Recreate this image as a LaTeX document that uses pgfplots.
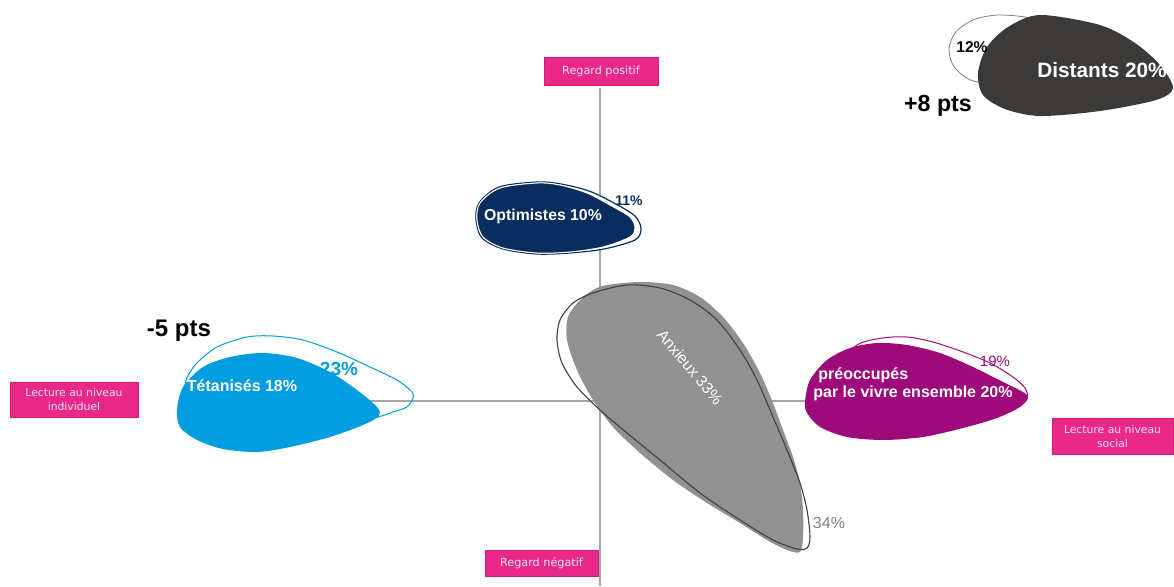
\documentclass[border=0pt]{standalone}
\usepackage{pgfplots}
\pgfplotsset{compat=1.18}
\usepackage{fontspec}
\setmainfont{Liberation Sans}
\newfontfamily\dv{DejaVu Sans}
\definecolor{distc}{RGB}{59,58,57}
\definecolor{navy}{RGB}{10,45,95}
\definecolor{bluec}{RGB}{0,158,224}
\definecolor{greyc}{RGB}{145,145,145}
\definecolor{purp}{RGB}{158,10,122}
\definecolor{pinkc}{RGB}{233,40,138}
\definecolor{pinkb}{RGB}{205,30,120}
\definecolor{pinkt}{RGB}{252,228,240}
\definecolor{axl}{RGB}{165,165,165}
\begin{document}
\begin{tikzpicture}
\begin{axis}[x=0.5pt, y=0.5pt, xmin=0, xmax=1174, ymin=0, ymax=586,
  y dir=reverse, hide axis, clip=false, scale only axis]
\path (axis cs:0,0) rectangle (axis cs:1174,586);
% quadrant lines
\addplot[axl, line width=0.75pt] coordinates {(600,88) (600,586)};
\addplot[axl, line width=0.75pt] coordinates {(300,401) (900,401)};
% Distants
\addplot[draw=gray, fill=white, line width=0.4pt, smooth cycle] coordinates {
(1000,15) (1040,20) (1090,40) (1110,55) (1090,70) (1040,80) (978,82) (955,68) (949,50) (955,33) (973,20)};
\addplot[draw=none, fill=distc, smooth cycle] coordinates {
(1040,15) (1100,25) (1135,43) (1160,65) (1173,88) (1156,100) (1100,111) (1040,116) (1005,109) (983,95) (978,73) (987,47) (1008,27)};
% Optimistes
\addplot[draw=navy, fill=white, line width=0.6pt, smooth cycle] coordinates {
(479,203) (499,187) (537,182) (561,184) (589,191) (614,203) (635,216) (641,229) (635,240) (604,249) (570,253) (537,254) (503,249) (482,238) (476,220)};
\addplot[draw=white, line width=0.5pt, fill=navy, smooth cycle] coordinates {
(480,203) (500,188) (537,183) (560,185) (587,193) (610,205) (630,217) (635,228) (630,237) (603,247) (570,252) (537,253) (503,248) (483,237) (477,220)};
% Tetanises
\addplot[draw=bluec, line width=0.5pt, smooth cycle] coordinates {
(187,378) (197,363) (217,347) (247,337) (273,336) (303,340) (337,352) (370,367) (397,380) (412,392) (413,398) (407,407) (393,412) (378,417) (330,430) (260,440) (200,420) (185,395)};
\addplot[draw=none, fill=bluec, smooth cycle] coordinates {
(177,410) (183,387) (203,367) (230,357) (263,353) (297,358) (330,372) (357,390) (377,407) (379,416) (363,425) (330,437) (290,447) (257,452) (223,449) (197,440) (180,427)};
% Anxieux
\addplot[draw=none, fill=greyc, smooth cycle] coordinates {
(607,285) (640,282) (673,285) (700,297) (723,317) (743,343) (760,373) (773,403) (783,430) (793,457) (800,483) (803,510) (803,537) (800,552) (787,550) (767,540) (740,523) (707,503) (673,480) (640,453) (613,427) (593,400) (577,370) (567,340) (568,317) (580,300) (593,290)};
\addplot[draw=black!75, line width=0.55pt, smooth cycle] coordinates {
(593,293) (627,285) (660,288) (690,300) (717,320) (740,350) (757,380) (773,417) (787,450) (800,483) (807,510) (810,537) (807,548) (797,549) (773,540) (740,520) (700,493) (660,460) (627,433) (600,410) (577,387) (562,363) (557,340) (560,320) (573,303)};
% Preoccupes
\addplot[draw=purp, line width=0.5pt, smooth cycle] coordinates {
(857,345) (883,338) (907,337) (933,342) (963,352) (990,363) (1013,377) (1025,388) (1027,398) (1015,405) (950,420) (880,425) (830,410) (835,370)};
\addplot[draw=none, fill=purp, smooth cycle] coordinates {
(805,402) (810,380) (827,360) (850,348) (877,343) (907,345) (940,353) (973,367) (1003,382) (1023,392) (1028,398) (1020,407) (997,418) (963,428) (923,437) (883,440) (847,437) (820,427) (807,413)};
% texts
\node[font=\bfseries\fontsize{7.8}{9}\selectfont, text=black] at (axis cs:972,47) {12\%};
\node[font=\bfseries\fontsize{10.4}{12}\selectfont, text=white] at (axis cs:1102,70) {Distants 20\%};
\node[font=\bfseries\fontsize{11.6}{13}\selectfont, text=black] at (axis cs:938,106) {+8 pts};
\node[font=\bfseries\fontsize{7.9}{9}\selectfont, text=white] at (axis cs:543,216) {Optimistes 10\%};
\node[font=\bfseries\fontsize{7}{8}\selectfont, text=navy] at (axis cs:629,201) {11\%};
\node[font=\bfseries\fontsize{8}{9}\selectfont, text=white] at (axis cs:242,386) {Tétanisés 18\%};
\node[font=\bfseries\fontsize{9.5}{11}\selectfont, text=bluec] at (axis cs:339,369) {23\%};
\node[font=\bfseries\fontsize{12}{14}\selectfont, text=black] at (axis cs:179,331) {-5 pts};
\node[font=\fontsize{7.9}{9}\selectfont, text=white, rotate=-50, inner sep=0pt] at (axis cs:690,367) {Anxieux 33\%};
\node[font=\fontsize{8}{9}\selectfont, text=gray] at (axis cs:829,523) {34\%};
\node[font=\bfseries\fontsize{8}{9}\selectfont, text=white, anchor=west, inner sep=0pt] at (axis cs:818,375) {préoccupés};
\node[font=\bfseries\fontsize{8}{9}\selectfont, text=white, anchor=west, inner sep=0pt] at (axis cs:813,393) {par le vivre ensemble 20\%};
\node[font=\fontsize{7.5}{9}\selectfont, text=purp] at (axis cs:995,361) {19\%};
% pink boxes
\node[fill=pinkc, draw=pinkb, line width=0.4pt, minimum width=57pt, minimum height=14pt, inner sep=0pt, text=pinkt, font=\dv\fontsize{5.6}{7}\selectfont] at (axis cs:601,71) {Regard positif};
\node[fill=pinkc, draw=pinkb, line width=0.4pt, minimum width=56.5pt, minimum height=13pt, inner sep=0pt, text=pinkt, font=\dv\fontsize{5.6}{7}\selectfont] at (axis cs:541.5,563) {Regard négatif};
\node[fill=pinkc, draw=pinkb, line width=0.4pt, minimum width=64pt, minimum height=17.5pt, inner sep=0pt, text=pinkt, align=center, font=\dv\fontsize{5.4}{7}\selectfont] at (axis cs:74,399.5) {Lecture au niveau\\individuel};
\node[fill=pinkc, draw=pinkb, line width=0.4pt, minimum width=60.5pt, minimum height=18pt, inner sep=0pt, text=pinkt, align=center, font=\dv\fontsize{5.4}{7}\selectfont] at (axis cs:1112.5,436) {Lecture au niveau\\social};
\end{axis}
\end{tikzpicture}
\end{document}
